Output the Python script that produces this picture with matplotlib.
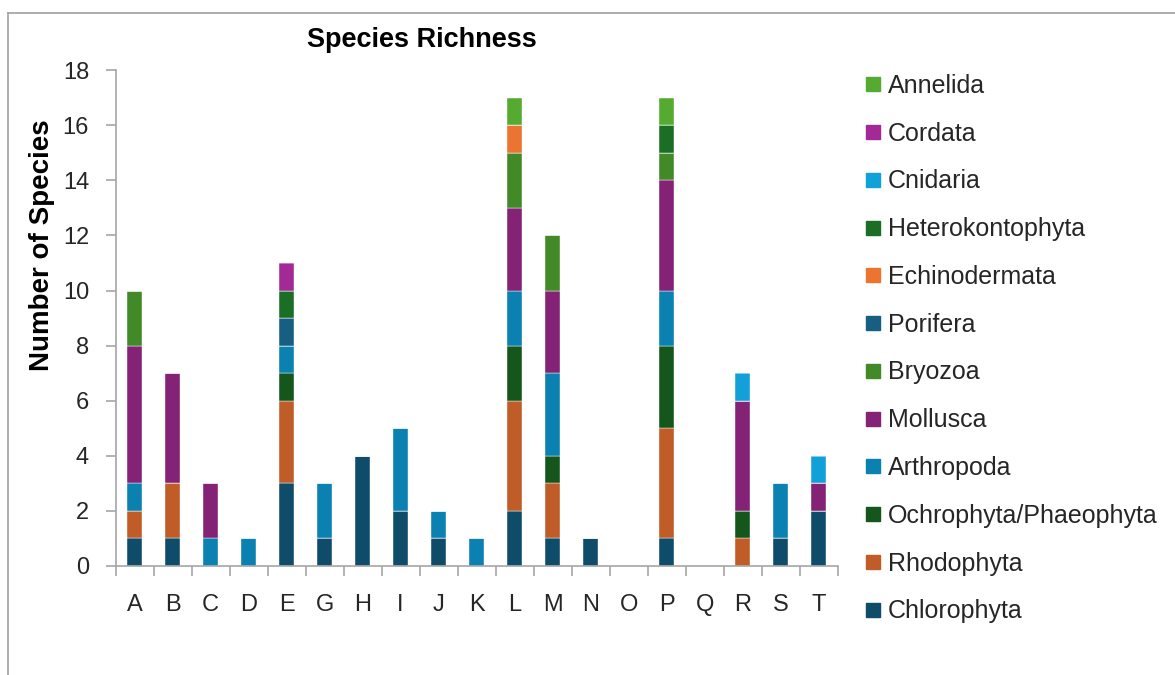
import matplotlib
matplotlib.use("Agg")
import matplotlib.pyplot as plt
from matplotlib.lines import Line2D
import numpy as np

plt.rcParams['font.family'] = ['Liberation Sans', 'DejaVu Sans']

sites = ["A", "B", "C", "D", "E", "G", "H", "I", "J", "K",
         "L", "M", "N", "O", "P", "Q", "R", "S", "T"]

# Species counts per phylum at each site (stacked bottom to top)
chlorophyta      = [1, 1, 0, 0, 3, 1, 4, 2, 1, 0, 2, 1, 1, 0, 1, 0, 0, 1, 2]
rhodophyta       = [1, 2, 0, 0, 3, 0, 0, 0, 0, 0, 4, 2, 0, 0, 4, 0, 1, 0, 0]
ochrophyta       = [0, 0, 0, 0, 1, 0, 0, 0, 0, 0, 2, 1, 0, 0, 3, 0, 1, 0, 0]
arthropoda       = [1, 0, 1, 1, 1, 2, 0, 3, 1, 1, 2, 3, 0, 0, 2, 0, 0, 2, 0]
mollusca         = [5, 4, 2, 0, 0, 0, 0, 0, 0, 0, 3, 3, 0, 0, 4, 0, 4, 0, 1]
bryozoa          = [2, 0, 0, 0, 0, 0, 0, 0, 0, 0, 2, 2, 0, 0, 1, 0, 0, 0, 0]
porifera         = [0, 0, 0, 0, 1, 0, 0, 0, 0, 0, 0, 0, 0, 0, 0, 0, 0, 0, 0]
echinodermata    = [0, 0, 0, 0, 0, 0, 0, 0, 0, 0, 1, 0, 0, 0, 0, 0, 0, 0, 0]
heterokontophyta = [0, 0, 0, 0, 1, 0, 0, 0, 0, 0, 0, 0, 0, 0, 1, 0, 0, 0, 0]
cnidaria         = [0, 0, 0, 0, 0, 0, 0, 0, 0, 0, 0, 0, 0, 0, 0, 0, 1, 0, 1]
cordata          = [0, 0, 0, 0, 1, 0, 0, 0, 0, 0, 0, 0, 0, 0, 0, 0, 0, 0, 0]
annelida         = [0, 0, 0, 0, 0, 0, 0, 0, 0, 0, 1, 0, 0, 0, 1, 0, 0, 0, 0]

series = [
    ("Chlorophyta", chlorophyta, "#0f4c6a"),
    ("Rhodophyta", rhodophyta, "#c05c28"),
    ("Ochrophyta/Phaeophyta", ochrophyta, "#14561c"),
    ("Arthropoda", arthropoda, "#0a81b0"),
    ("Mollusca", mollusca, "#842275"),
    ("Bryozoa", bryozoa, "#428a28"),
    ("Porifera", porifera, "#165f82"),
    ("Echinodermata", echinodermata, "#ec7431"),
    ("Heterokontophyta", heterokontophyta, "#1b6e25"),
    ("Cnidaria", cnidaria, "#12a0d8"),
    ("Cordata", cordata, "#a32a96"),
    ("Annelida", annelida, "#55ab30"),
]

fig = plt.figure(figsize=(11.75, 6.75), dpi=100)
ax = fig.add_axes([0.0983, 0.1615, 0.6147, 0.7345])

x = np.arange(len(sites))
bottom = np.zeros(len(sites))
handles = []
for name, vals, color in series:
    vals = np.array(vals, dtype=float)
    ax.bar(x, vals, width=0.4, bottom=bottom, color=color,
           edgecolor="white", linewidth=0.3, label=name)
    bottom += vals
    handles.append((name, color))

grey = "#a6a6a6"
ax.set_xlim(-0.5, len(sites) - 0.5)
ax.set_ylim(0, 18)
ax.set_yticks(np.arange(0, 19, 2))
ax.set_xticks(x)
ax.set_xticklabels(sites)
ax.set_xticks(np.arange(-0.5, len(sites), 1), minor=True)
ax.tick_params(axis="x", which="major", length=0, pad=20, labelsize=17,
               labelcolor="#262626")
ax.tick_params(axis="x", which="minor", length=7, width=1.2, color=grey,
               direction="out")
ax.tick_params(axis="y", length=7, width=1.2, color=grey, labelsize=17,
               labelcolor="#262626", pad=12)
for side in ("top", "right"):
    ax.spines[side].set_visible(False)
for side in ("left", "bottom"):
    ax.spines[side].set_color(grey)
    ax.spines[side].set_linewidth(1.2)

fig.text(422 / 1175, 1 - 40 / 675, "Species Richness", ha="center",
         va="center", fontsize=19.5, fontweight="bold", color="black")
fig.text(42 / 1175, 1 - 245 / 675, "Number of Species", ha="center",
         va="center", rotation=90, fontsize=20, fontweight="bold",
         color="black")

legend_handles = [
    Line2D([], [], marker="s", linestyle="none", markersize=10,
           markerfacecolor=c, markeredgecolor=c, label=n)
    for n, c in reversed(handles)
]
fig.legend(handles=legend_handles, loc="upper left",
           bbox_to_anchor=(855 / 1175, 1 - 64 / 675), frameon=False,
           fontsize=18, handlelength=0.6, handletextpad=0.3,
           labelspacing=0.95, borderaxespad=0, labelcolor="#262626")

# Outer chart-area border (left and top edges)
fig.add_artist(Line2D([8 / 1175, 8 / 1175], [0, 1 - 13 / 675],
                      transform=fig.transFigure, color="#a0a0a0", lw=1.2))
fig.add_artist(Line2D([8 / 1175, 1], [1 - 13 / 675, 1 - 13 / 675],
                      transform=fig.transFigure, color="#a0a0a0", lw=1.2))

fig.savefig("out.png", dpi=100, facecolor="white")
